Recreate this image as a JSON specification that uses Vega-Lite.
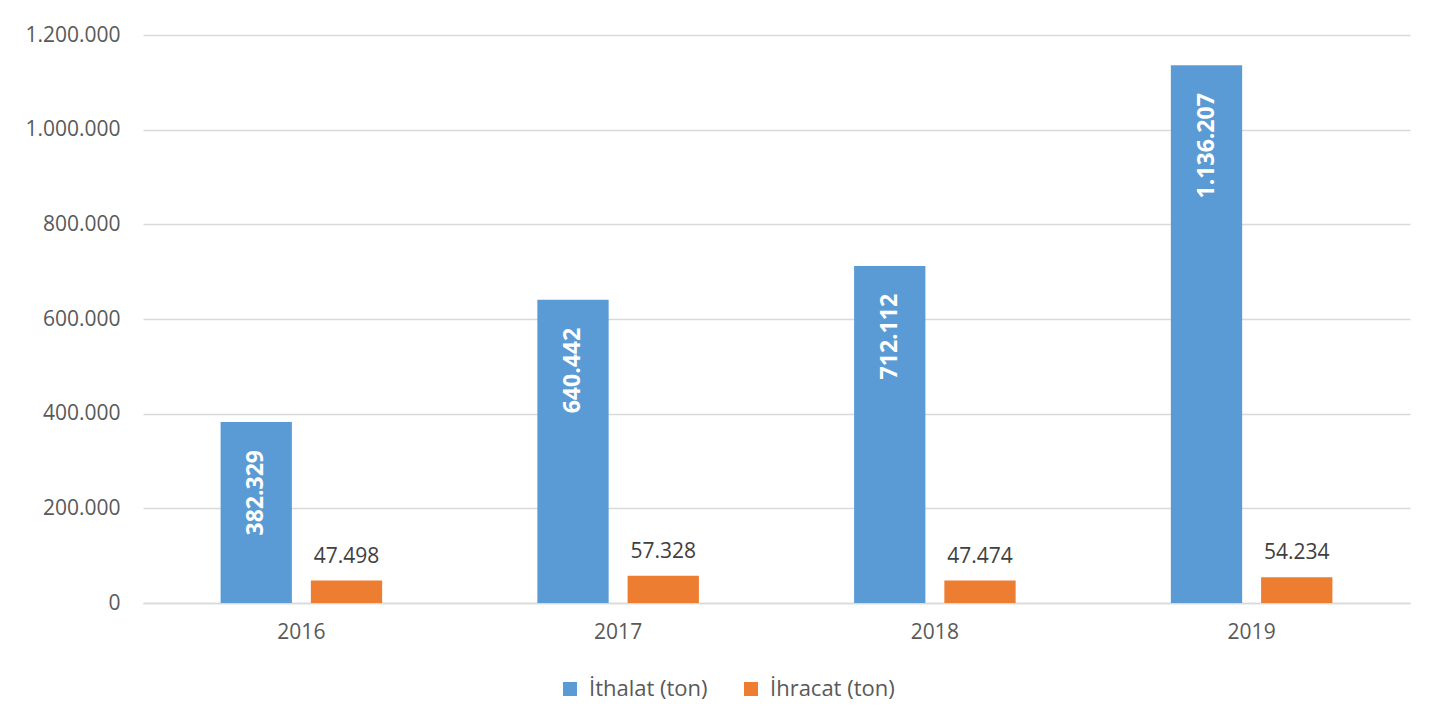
{
  "$schema": "https://vega.github.io/schema/vega-lite/v6.json",
  "width": 1267,
  "height": 568,
  "autosize": {"type": "none"},
  "padding": {"left": 143, "top": 35, "right": 33, "bottom": 124},
  "background": "white",
  "config": {
    "locale": {"number": {"decimal": ",", "thousands": ".", "grouping": [3], "currency": ["", ""]}},
    "view": {"stroke": null},
    "font": "Open Sans"
  },
  "data": {
    "values": [
      {"year": "2016", "series": "İthalat (ton)", "value": 382329},
      {"year": "2016", "series": "İhracat (ton)", "value": 47498},
      {"year": "2017", "series": "İthalat (ton)", "value": 640442},
      {"year": "2017", "series": "İhracat (ton)", "value": 57328},
      {"year": "2018", "series": "İthalat (ton)", "value": 712112},
      {"year": "2018", "series": "İhracat (ton)", "value": 47474},
      {"year": "2019", "series": "İthalat (ton)", "value": 1136207},
      {"year": "2019", "series": "İhracat (ton)", "value": 54234}
    ]
  },
  "encoding": {
    "x": {
      "field": "year",
      "type": "nominal",
      "scale": {"paddingInner": 0.49, "paddingOuter": 0.245},
      "axis": {
        "title": null,
        "labelAngle": 0,
        "labelFontSize": 21,
        "labelColor": "#595959",
        "labelPadding": 18,
        "ticks": false,
        "domainColor": "#d9d9d9",
        "domainWidth": 1.3
      }
    },
    "xOffset": {
      "field": "series",
      "type": "nominal",
      "sort": ["İthalat (ton)", "İhracat (ton)"],
      "scale": {"paddingInner": 0.21, "paddingOuter": 0}
    },
    "y": {
      "field": "value",
      "type": "quantitative",
      "scale": {"domain": [0, 1200000]},
      "axis": {
        "title": null,
        "values": [0, 200000, 400000, 600000, 800000, 1000000, 1200000],
        "format": ",d",
        "labelFontSize": 21,
        "labelColor": "#595959",
        "labelPadding": 23,
        "ticks": false,
        "domain": false,
        "gridColor": "#d9d9d9",
        "gridWidth": 1.3
      }
    }
  },
  "layer": [
    {
      "mark": {"type": "bar"},
      "encoding": {
        "color": {
          "field": "series",
          "type": "nominal",
          "sort": ["İthalat (ton)", "İhracat (ton)"],
          "scale": {"domain": ["İthalat (ton)", "İhracat (ton)"], "range": ["#5B9BD5", "#ED7D31"]},
          "legend": {
            "orient": "none",
            "legendX": 416,
            "legendY": 643,
            "direction": "horizontal",
            "title": null,
            "symbolType": "square",
            "symbolSize": 196,
            "symbolStrokeWidth": 0,
            "symbolOpacity": 1,
            "labelFontSize": 22,
            "labelColor": "#595959",
            "labelOffset": 8,
            "columnPadding": 32
          }
        }
      }
    },
    {
      "transform": [{"filter": "datum.series === 'İthalat (ton)'"}],
      "mark": {"type": "text", "angle": -90, "align": "right", "baseline": "middle", "dx": -28, "color": "white", "fontWeight": "bold", "fontSize": 23},
      "encoding": {"text": {"field": "value", "type": "quantitative", "format": ",d"}}
    },
    {
      "transform": [{"filter": "datum.series === 'İhracat (ton)'"}],
      "mark": {"type": "text", "baseline": "alphabetic", "dy": -18, "color": "#404040", "fontSize": 21},
      "encoding": {"text": {"field": "value", "type": "quantitative", "format": ",d"}}
    }
  ]
}
